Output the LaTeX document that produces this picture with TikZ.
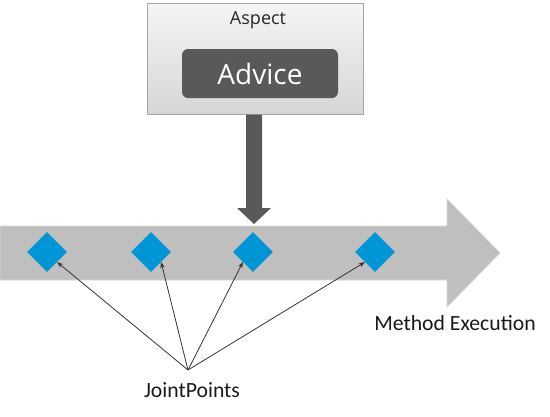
\documentclass[tikz,border=0pt]{standalone}
\usepackage{fontspec}
\setmainfont{Carlito}
\newfontfamily\osans{Open Sans}
\usetikzlibrary{shapes.geometric,arrows.meta}
\definecolor{bandgray}{HTML}{BFBFBF}
\definecolor{bandedge}{HTML}{D6D6D6}
\definecolor{darkbox}{HTML}{595959}
\definecolor{jpblue}{HTML}{0096D6}
\definecolor{boxedge}{HTML}{A6A6A6}
\tikzset{
  jp/.style={shape=diamond, fill=jpblue, minimum width=40pt, minimum height=40pt, inner sep=0pt, aspect=1},
  ptr/.style={draw=black!80, line width=0.8pt, -{Stealth[length=6pt,width=4.5pt]}},
  lbl/.style={font=\fontsize{21.7}{25}\selectfont, text=black!90, inner sep=0pt}
}
\begin{document}
\begin{tikzpicture}[x=1pt,y=-1pt]
\useasboundingbox (0,0) rectangle (550,416);
% big execution arrow
\path[fill=bandgray, draw=bandedge, line width=0.8pt]
  (0,226) -- (447,226) -- (447,199) -- (500,253) -- (447,307) -- (447,280) -- (0,280) -- cycle;
% aspect box
\node[draw=boxedge, line width=0.8pt, top color=black!4, bottom color=black!16,
      minimum width=216pt, minimum height=111pt, inner sep=0pt] (aspect) at (255,58.5) {};
\node[font=\osans\fontsize{18}{20}\selectfont, text=black!85, inner sep=0pt] (aspectlbl) at (258,20) {Aspect};
\node[fill=darkbox, rounded corners=6pt, minimum width=156pt, minimum height=49pt, inner sep=0pt,
      text=white, font=\osans\fontsize{28}{32}\selectfont] (advice) at (260,73.5) {Advice};
% advice arrow
\path[fill=darkbox] (246,114.5) -- (262,114.5) -- (262,208) -- (271,208) -- (254,224) -- (237,208) -- (246,208) -- cycle;
% join points
\node[jp] (d1) at (47,252) {};
\node[jp] (d2) at (151,252) {};
\node[jp] (d3) at (253,252) {};
\node[jp] (d4) at (375,252) {};
\coordinate (J) at (188,370);
\draw[ptr] (J) -- (d1.south east);
\draw[ptr] (J) -- (d2.south east);
\draw[ptr] (J) -- (d3.south west);
\draw[ptr] (J) -- (d4.south west);
\node[lbl] (jplbl) at (192,390) {JointPoints};
\node[lbl] (melbl) at (455,323) {Method Execution};
\end{tikzpicture}
\end{document}
